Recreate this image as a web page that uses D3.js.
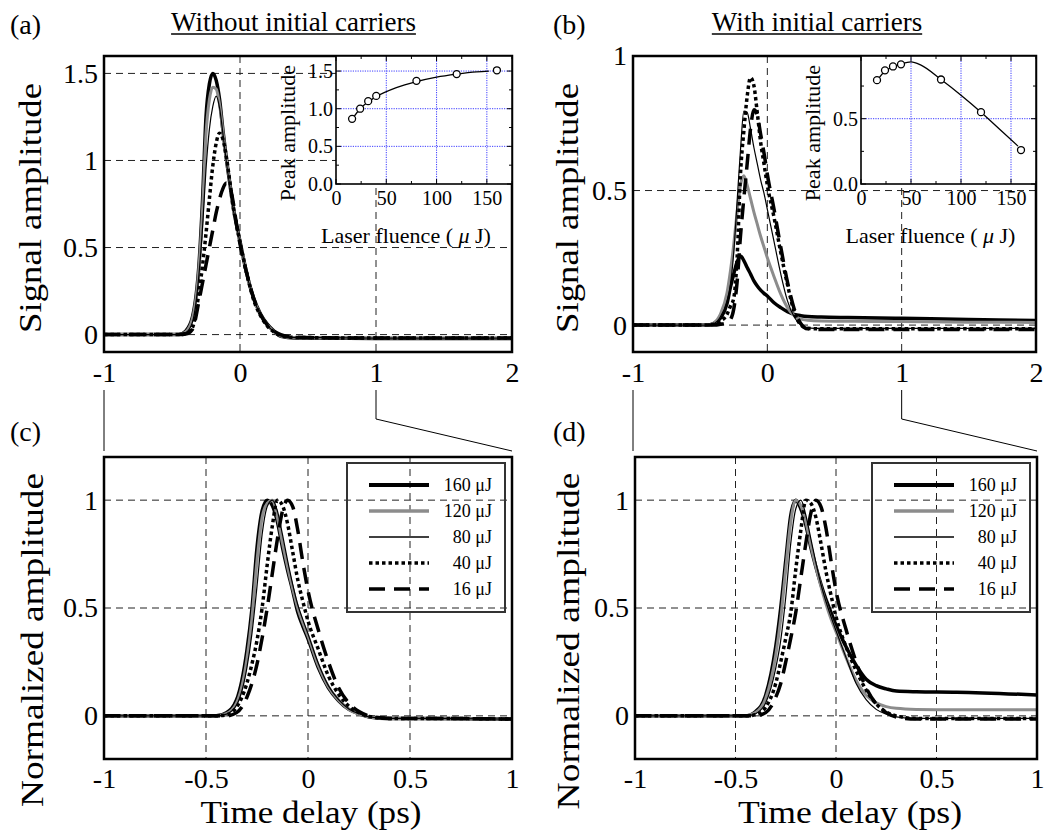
<!DOCTYPE html>
<html>
<head>
<meta charset="utf-8">
<script src="https://cdn.jsdelivr.net/npm/d3@7"></script>
<style>
  body { margin: 0; background: #fff; }
  svg { display: block; }
  text { white-space: pre; }
</style>
</head>
<body>
<svg id="fig" width="1049" height="836"></svg>
<script>
// Time grids (ps)
const T_AB = [-1, -0.45, -0.4, -0.35, -0.3, -0.275, -0.25, -0.225, -0.2, -0.175, -0.15, -0.125, -0.1, -0.075,
  -0.05, -0.025, 0, 0.05, 0.1, 0.15, 0.2, 0.25, 0.3, 0.4, 0.6, 1, 1.5, 2];
const T_CD = T_AB.slice(0, 26);

// (a) signal amplitude, without initial carriers
const A_160 = [0, 0, 0.02, 0.1, 0.42, 0.78, 1.25, 1.44, 1.5, 1.46, 1.35, 1.17, 1.01, 0.87, 0.73, 0.63, 0.535, 0.35, 0.21, 0.12, 0.06, 0.02, -0.01, -0.02, -0.02, -0.022, -0.022, -0.022];
const A_120 = [0, 0, 0.015, 0.09, 0.4, 0.72, 1.15, 1.35, 1.42, 1.41, 1.32, 1.16, 1.0, 0.86, 0.72, 0.62, 0.53, 0.345, 0.205, 0.115, 0.055, 0.017, -0.008, -0.018, -0.018, -0.02, -0.02, -0.02];
const A_80 = [0, 0, 0.01, 0.07, 0.36, 0.62, 0.95, 1.18, 1.31, 1.37, 1.3, 1.15, 0.99, 0.85, 0.72, 0.62, 0.53, 0.345, 0.205, 0.115, 0.055, 0.017, -0.008, -0.017, -0.018, -0.02, -0.02, -0.02];
const A_40 = [0, 0, 0.005, 0.04, 0.25, 0.4, 0.58, 0.78, 0.97, 1.1, 1.157, 1.12, 1.02, 0.88, 0.74, 0.63, 0.53, 0.35, 0.2, 0.11, 0.05, 0.015, -0.005, -0.016, -0.018, -0.02, -0.02, -0.02];
const A_16 = [0, 0, 0.003, 0.03, 0.2, 0.3, 0.4, 0.5, 0.6, 0.7, 0.78, 0.84, 0.87, 0.85, 0.76, 0.63, 0.52, 0.35, 0.21, 0.115, 0.055, 0.02, 0, -0.015, -0.018, -0.02, -0.02, -0.02];

// (b) signal amplitude, with initial carriers
const B_160 = [0, 0, 0.006, 0.025, 0.08, 0.14, 0.19, 0.235, 0.257, 0.24, 0.214, 0.19, 0.164, 0.145, 0.13, 0.118, 0.108, 0.083, 0.065, 0.05, 0.04, 0.035, 0.032, 0.03, 0.028, 0.025, 0.021, 0.017];
const B_120 = [0, 0, 0.008, 0.04, 0.12, 0.2, 0.3, 0.42, 0.52, 0.555, 0.52, 0.47, 0.42, 0.375, 0.33, 0.29, 0.25, 0.18, 0.115, 0.065, 0.035, 0.022, 0.018, 0.015, 0.014, 0.013, 0.011, 0.01];
const B_80 = [0, 0, 0.005, 0.03, 0.09, 0.15, 0.27, 0.46, 0.65, 0.795, 0.79, 0.73, 0.66, 0.6, 0.54, 0.49, 0.43, 0.31, 0.19, 0.09, 0.03, 0, -0.01, -0.012, -0.012, -0.012, -0.012, -0.012];
const B_40 = [0, 0, 0.003, 0.015, 0.04, 0.07, 0.1, 0.25, 0.56, 0.72, 0.85, 0.92, 0.89, 0.79, 0.68, 0.6, 0.52, 0.4, 0.27, 0.15, 0.05, 0, -0.012, -0.014, -0.014, -0.014, -0.014, -0.014];
const B_16 = [0, 0, 0, 0.003, 0.01, 0.02, 0.06, 0.16, 0.33, 0.47, 0.6, 0.73, 0.8, 0.78, 0.71, 0.64, 0.56, 0.43, 0.29, 0.16, 0.06, 0.005, -0.014, -0.016, -0.016, -0.016, -0.016, -0.016];

// (c) normalized, without initial carriers
const C_160 = [0, 0, 0.015, 0.075, 0.3, 0.495, 0.78, 0.95, 1.0, 0.975, 0.9, 0.78, 0.675, 0.58, 0.48, 0.415, 0.357, 0.225, 0.13, 0.07, 0.03, 0.01, -0.005, -0.012, -0.012, -0.015];
const C_120 = [0, 0, 0.01, 0.06, 0.26, 0.45, 0.72, 0.92, 0.985, 1.0, 0.92, 0.8, 0.69, 0.59, 0.5, 0.43, 0.37, 0.235, 0.135, 0.072, 0.03, 0.008, -0.005, -0.012, -0.012, -0.015];
const C_80 = [0, 0, 0.008, 0.05, 0.22, 0.38, 0.6, 0.84, 0.97, 1.0, 0.95, 0.84, 0.72, 0.61, 0.515, 0.445, 0.38, 0.245, 0.14, 0.075, 0.032, 0.01, -0.005, -0.012, -0.012, -0.015];
const C_40 = [0, 0, 0.005, 0.04, 0.15, 0.24, 0.35, 0.5, 0.7, 0.88, 1.0, 0.975, 0.89, 0.76, 0.63, 0.53, 0.44, 0.31, 0.185, 0.1, 0.045, 0.015, -0.003, -0.012, -0.012, -0.015];
const C_16 = [0, 0, 0, 0.015, 0.085, 0.15, 0.24, 0.36, 0.5, 0.66, 0.82, 0.95, 1.0, 0.97, 0.86, 0.71, 0.58, 0.4, 0.25, 0.13, 0.06, 0.02, 0, -0.012, -0.012, -0.015];

// (d) normalized, with initial carriers
const D_160 = [0, 0, 0.02, 0.095, 0.32, 0.5, 0.72, 0.93, 1.0, 0.96, 0.885, 0.78, 0.69, 0.61, 0.54, 0.48, 0.42, 0.32, 0.235, 0.17, 0.14, 0.125, 0.115, 0.112, 0.11, 0.097];
const D_120 = [0, 0, 0.015, 0.08, 0.28, 0.45, 0.68, 0.9, 1.0, 0.975, 0.9, 0.79, 0.69, 0.6, 0.52, 0.45, 0.39, 0.27, 0.165, 0.095, 0.06, 0.043, 0.035, 0.03, 0.028, 0.028];
const D_80 = [0, 0, 0.01, 0.06, 0.22, 0.35, 0.55, 0.8, 0.96, 1.0, 0.93, 0.82, 0.71, 0.61, 0.53, 0.46, 0.395, 0.27, 0.15, 0.075, 0.03, 0.008, -0.005, -0.012, -0.012, -0.012];
const D_40 = [0, 0, 0.005, 0.04, 0.15, 0.25, 0.36, 0.48, 0.68, 0.86, 1.0, 0.985, 0.92, 0.8, 0.67, 0.56, 0.46, 0.32, 0.21, 0.12, 0.055, 0.018, 0, -0.012, -0.012, -0.012];
const D_16 = [0, 0, 0, 0.015, 0.085, 0.15, 0.25, 0.36, 0.48, 0.64, 0.8, 0.94, 1.0, 0.97, 0.87, 0.72, 0.58, 0.4, 0.25, 0.13, 0.055, 0.015, -0.005, -0.015, -0.015, -0.015];

const SERIES_LABELS = ["160 μJ", "120 μJ", "80 μJ", "40 μJ", "16 μJ"];

// insets: peak amplitude vs laser fluence
const FLUENCE = [16, 24, 32, 40, 80, 120, 160];
const PEAK_A = [0.865, 1.0, 1.1, 1.17, 1.37, 1.46, 1.51];
const PEAK_B = [0.795, 0.87, 0.9, 0.916, 0.8, 0.55, 0.26];
const FIT_A_X = [16, 24, 32, 40, 60, 80, 100, 120, 140, 152];
const FIT_A_Y = [0.86, 1.0, 1.09, 1.16, 1.28, 1.36, 1.42, 1.46, 1.49, 1.5];
const FIT_B_X = [16, 24, 32, 40, 50, 60, 80, 100, 120, 140, 157];
const FIT_B_Y = [0.79, 0.865, 0.895, 0.918, 0.935, 0.91, 0.8, 0.68, 0.55, 0.41, 0.29];

const FONT = '"Liberation Serif","Times New Roman",serif';
const STYLES = [
  { stroke: "#000", width: 3.5, dash: null },
  { stroke: "#8c8c8c", width: 3, dash: null },
  { stroke: "#000", width: 1.2, dash: null },
  { stroke: "#000", width: 3.5, dash: "3.5,3" },
  { stroke: "#000", width: 3.5, dash: "16,9" }
];

const svg = d3.select("#fig");
svg.append("rect").attr("width", 1049).attr("height", 836).attr("fill", "#fff");

function drawPanel(p) {
  const [x0, x1, y0, y1] = p.box;
  const x = d3.scaleLinear().domain(p.xDomain).range([x0, x1]);
  const y = d3.scaleLinear().domain(p.yDomain).range([y1, y0]);
  const g = svg.append("g");

  // dashed grid
  g.selectAll(".gx").data(p.xGrid).join("line")
    .attr("x1", d => x(d)).attr("x2", d => x(d)).attr("y1", y0).attr("y2", y1);
  g.selectAll(".gy").data(p.yGrid).join("line")
    .attr("x1", x0).attr("x2", x1).attr("y1", d => y(d)).attr("y2", d => y(d));
  g.selectAll("line").attr("stroke", "#222").attr("stroke-width", 1).attr("stroke-dasharray", "7,5");

  const clipId = "clip-" + p.name;
  svg.append("clipPath").attr("id", clipId).append("rect")
    .attr("x", x0).attr("y", y0).attr("width", x1 - x0).attr("height", y1 - y0);

  const line = d3.line()
    .x((d, i) => x(p.times[i]))
    .y(d => y(d))
    .curve(d3.curveMonotoneX);

  g.append("g").attr("clip-path", `url(#${clipId})`)
    .selectAll("path").data(p.series).join("path")
    .attr("d", line)
    .attr("fill", "none")
    .attr("stroke", (d, i) => STYLES[i].stroke)
    .attr("stroke-width", (d, i) => STYLES[i].width)
    .attr("stroke-dasharray", (d, i) => STYLES[i].dash)
    .attr("stroke-linejoin", "round");

  g.append("rect")
    .attr("x", x0).attr("y", y0).attr("width", x1 - x0).attr("height", y1 - y0)
    .attr("fill", "none").attr("stroke", "#000").attr("stroke-width", 2.5);

  const ax = g.append("g").attr("transform", `translate(0,${y1})`)
    .call(d3.axisBottom(x).tickValues(p.xTicks).tickFormat(d => String(d)).tickSize(0).tickPadding(p.xPad));
  const ay = g.append("g").attr("transform", `translate(${x0},0)`)
    .call(d3.axisLeft(y).tickValues(p.yTicks).tickFormat(d => String(d)).tickSize(0).tickPadding(6));
  [ax, ay].forEach(a => {
    a.select(".domain").remove();
    a.selectAll("text").attr("font-family", FONT).attr("font-size", 28).attr("fill", "#000");
  });

  return { x, y, box: p.box };
}

function drawInset(p) {
  const [x0, x1, y0, y1] = p.box;
  const x = d3.scaleLinear().domain(p.xDomain).range([x0, x1]);
  const y = d3.scaleLinear().domain(p.yDomain).range([y1, y0]);
  const g = svg.append("g");

  g.append("rect").attr("x", x0).attr("y", y0).attr("width", x1 - x0).attr("height", y1 - y0).attr("fill", "#fff");

  const grid = g.append("g").attr("stroke", "#3c3cff").attr("stroke-width", 1).attr("stroke-dasharray", "1.2,1.2");
  grid.selectAll(".vx").data(p.xGrid).join("line")
    .attr("x1", d => x(d)).attr("x2", d => x(d)).attr("y1", y0).attr("y2", y1);
  grid.selectAll(".hy").data(p.yGrid).join("line")
    .attr("x1", x0).attr("x2", x1).attr("y1", d => y(d)).attr("y2", d => y(d));

  // inward ticks on all sides
  const tk = g.append("g").attr("stroke", "#000").attr("stroke-width", 1);
  p.xTicksAll.forEach(v => {
    const len = p.xTicks.includes(v) ? 5 : 3;
    tk.append("line").attr("x1", x(v)).attr("x2", x(v)).attr("y1", y1).attr("y2", y1 - len);
    tk.append("line").attr("x1", x(v)).attr("x2", x(v)).attr("y1", y0).attr("y2", y0 + len);
  });
  p.yTicksAll.forEach(v => {
    const len = p.yTicks.includes(v) ? 5 : 3;
    tk.append("line").attr("x1", x0).attr("x2", x0 + len).attr("y1", y(v)).attr("y2", y(v));
    tk.append("line").attr("x1", x1).attr("x2", x1 - len).attr("y1", y(v)).attr("y2", y(v));
  });

  const fit = d3.line().x((d, i) => x(p.fitX[i])).y(d => y(d)).curve(d3.curveMonotoneX);
  g.append("path").datum(p.fitY).attr("d", fit)
    .attr("fill", "none").attr("stroke", "#000").attr("stroke-width", 1.3);

  g.selectAll("circle").data(p.peaks).join("circle")
    .attr("cx", (d, i) => x(FLUENCE[i])).attr("cy", d => y(d)).attr("r", 3.5)
    .attr("fill", "#fff").attr("stroke", "#000").attr("stroke-width", 1.3);

  g.append("rect").attr("x", x0).attr("y", y0).attr("width", x1 - x0).attr("height", y1 - y0)
    .attr("fill", "none").attr("stroke", "#000").attr("stroke-width", 1.6);

  const ax = g.append("g").attr("transform", `translate(0,${y1})`)
    .call(d3.axisBottom(x).tickValues(p.xTicks).tickFormat(d => String(d)).tickSize(0).tickPadding(7));
  const ay = g.append("g").attr("transform", `translate(${x0},0)`)
    .call(d3.axisLeft(y).tickValues(p.yTicks).tickFormat(d => d.toFixed(1)).tickSize(0).tickPadding(3));
  [ax, ay].forEach(a => {
    a.select(".domain").remove();
    a.selectAll("text").attr("font-family", FONT).attr("font-size", 20).attr("fill", "#000");
  });

  g.append("text")
    .attr("transform", `translate(${x0 - 49},${(y0 + y1) / 2 + 13}) rotate(-90)`)
    .attr("text-anchor", "middle").attr("dominant-baseline", "central")
    .attr("font-family", FONT).attr("font-size", 22).text("Peak amplitude");

  const xl = g.append("text")
    .attr("x", (x0 + x1) / 2 - 18).attr("y", 243)
    .attr("text-anchor", "middle").attr("font-family", FONT).attr("font-size", 22);
  xl.append("tspan").text("Laser fluence ( ");
  xl.append("tspan").attr("font-style", "italic").text("μ");
  xl.append("tspan").text(" J)");
}

function drawLegend(panel) {
  const [, x1, y0] = panel.box;
  const lx = x1 - 165, ly = y0 + 6, w = 158, h = 149;
  const g = svg.append("g");
  g.append("rect").attr("x", lx).attr("y", ly).attr("width", w).attr("height", h)
    .attr("fill", "none").attr("stroke", "#333").attr("stroke-width", 2);
  const rows = g.selectAll(".row").data(SERIES_LABELS).join("g")
    .attr("transform", (d, i) => `translate(${lx},${ly + 22 + i * 26})`);
  rows.append("line").attr("x1", 22).attr("x2", 82).attr("y1", 0).attr("y2", 0)
    .attr("stroke", (d, i) => STYLES[i].stroke)
    .attr("stroke-width", (d, i) => Math.max(STYLES[i].width, 1.4) + (i < 2 ? 0.5 : 0))
    .attr("stroke-dasharray", (d, i) => STYLES[i].dash);
  rows.append("text").attr("x", 145).attr("y", 6).attr("text-anchor", "end")
    .attr("font-family", FONT).attr("font-size", 18).text(d => d);
}

function drawConnector(top, bottom) {
  const yTop = 390, yEnd = bottom.box[2] - 6;
  const path = d3.path();
  path.moveTo(top.x(-1), yTop); path.lineTo(top.x(-1), yEnd);
  path.moveTo(top.x(1), yTop); path.lineTo(top.x(1), 419); path.lineTo(bottom.box[1], yEnd);
  svg.append("path").attr("d", path.toString()).attr("fill", "none").attr("stroke", "#000").attr("stroke-width", 1);
}

function addText(txt, x, y, size, opts = {}) {
  const t = svg.append("text").attr("x", x).attr("y", y)
    .attr("font-family", FONT).attr("font-size", size)
    .attr("text-anchor", opts.anchor || "start").text(txt);
  if (opts.length) t.attr("textLength", opts.length).attr("lengthAdjust", "spacingAndGlyphs");
  if (opts.rotate) {
    t.attr("x", 0).attr("y", 0).attr("dominant-baseline", "central")
      .attr("transform", `translate(${x},${y}) rotate(-90)`);
  }
  return t;
}

function addTitle(txt, cx, y) {
  const t = addText(txt, cx, y, 27, { anchor: "middle" });
  const w = t.node().getComputedTextLength();
  svg.append("line").attr("x1", cx - w / 2).attr("x2", cx + w / 2).attr("y1", y + 3).attr("y2", y + 3)
    .attr("stroke", "#000").attr("stroke-width", 1.3);
}

// panels
const pa = drawPanel({
  name: "a", box: [104, 512, 56, 352], xDomain: [-1, 2], yDomain: [-0.1, 1.6],
  xTicks: [-1, 0, 1, 2], yTicks: [0, 0.5, 1, 1.5], xGrid: [0, 1], yGrid: [0, 0.5, 1, 1.5],
  times: T_AB, series: [A_160, A_120, A_80, A_40, A_16], xPad: 10
});
const pb = drawPanel({
  name: "b", box: [633, 1036, 56, 352], xDomain: [-1, 2], yDomain: [-0.1, 1],
  xTicks: [-1, 0, 1, 2], yTicks: [0, 0.5, 1], xGrid: [0, 1], yGrid: [0, 0.5],
  times: T_AB, series: [B_160, B_120, B_80, B_40, B_16], xPad: 10
});
const pc = drawPanel({
  name: "c", box: [104, 512, 457, 759], xDomain: [-1, 1], yDomain: [-0.2, 1.2],
  xTicks: [-1, -0.5, 0, 0.5, 1], yTicks: [0, 0.5, 1], xGrid: [-0.5, 0, 0.5], yGrid: [0, 0.5, 1],
  times: T_CD, series: [C_160, C_120, C_80, C_40, C_16], xPad: 9
});
const pd = drawPanel({
  name: "d", box: [635, 1037, 457, 759], xDomain: [-1, 1], yDomain: [-0.2, 1.2],
  xTicks: [-1, -0.5, 0, 0.5, 1], yTicks: [0, 0.5, 1], xGrid: [-0.5, 0, 0.5], yGrid: [0, 0.5, 1],
  times: T_CD, series: [D_160, D_120, D_80, D_40, D_16], xPad: 9
});

drawInset({
  box: [336, 512, 56, 184], xDomain: [0, 175], yDomain: [0, 1.7],
  xTicks: [0, 50, 100, 150], xTicksAll: [0, 25, 50, 75, 100, 125, 150, 175],
  yTicks: [0, 0.5, 1, 1.5], yTicksAll: [0, 0.25, 0.5, 0.75, 1, 1.25, 1.5],
  xGrid: [50, 100, 150], yGrid: [0.5, 1, 1.5],
  fitX: FIT_A_X, fitY: FIT_A_Y, peaks: PEAK_A
});
drawInset({
  box: [861, 1036, 56, 184], xDomain: [0, 175], yDomain: [0, 0.98],
  xTicks: [0, 50, 100, 150], xTicksAll: [0, 25, 50, 75, 100, 125, 150, 175],
  yTicks: [0, 0.5], yTicksAll: [0, 0.25, 0.5, 0.75],
  xGrid: [50, 100, 150], yGrid: [0.5],
  fitX: FIT_B_X, fitY: FIT_B_Y, peaks: PEAK_B
});

drawLegend(pc);
drawLegend(pd);
drawConnector(pa, pc);
drawConnector(pb, pd);

// labels
addText("(a)", 10, 34, 28);
addText("(b)", 553, 34, 28);
addText("(c)", 10, 441, 28);
addText("(d)", 553, 441, 28);
addTitle("Without initial carriers", 293.5, 31);
addTitle("With initial carriers", 817, 31);
addText("Signal amplitude", 30, 208, 32, { anchor: "middle", rotate: true, length: 250 });
addText("Signal amplitude", 567, 208, 32, { anchor: "middle", rotate: true, length: 250 });
addText("Normalized amplitude", 32, 640, 32, { anchor: "middle", rotate: true, length: 334 });
addText("Normalized amplitude", 568, 641, 32, { anchor: "middle", rotate: true, length: 337 });
addText("Time delay (ps)", 311, 823, 32, { anchor: "middle", length: 221 });
addText("Time delay (ps)", 850, 823, 32, { anchor: "middle", length: 224 });
</script>
</body>
</html>
